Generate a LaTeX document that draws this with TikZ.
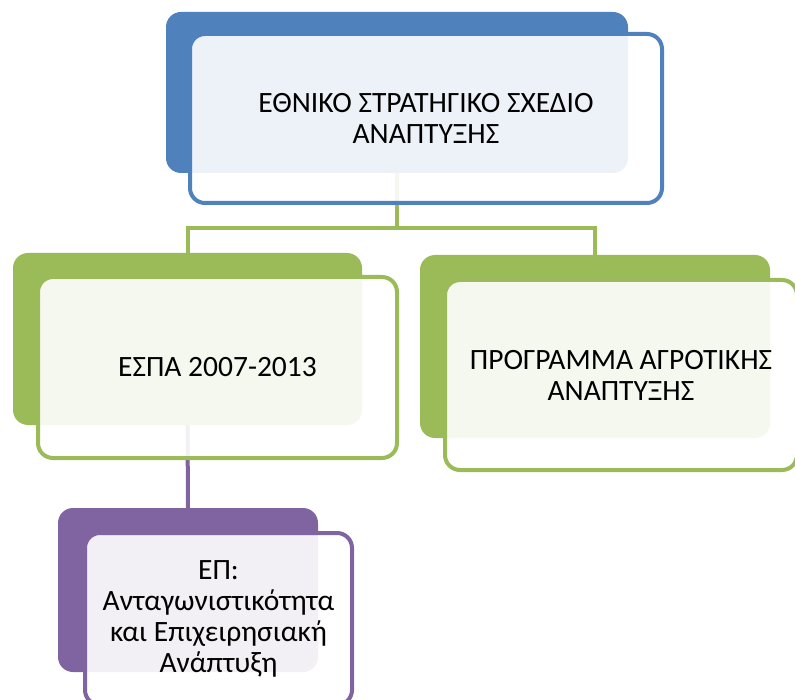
\documentclass[tikz,border=0pt]{standalone}
\usepackage{fontspec}
\setmainfont{Carlito}
\usetikzlibrary{backgrounds}
\definecolor{cblue}{HTML}{4F81BD}
\definecolor{cgreen}{HTML}{9BBB59}
\definecolor{cpurple}{HTML}{8064A2}
\begin{document}
\begin{tikzpicture}[x=1pt,y=-1pt,
  fillbox/.style={rounded corners=15pt, inner sep=0pt, draw=none},
  outbox/.style={fill=white, fill opacity=0.9, text opacity=1, line width=4pt,
    rounded corners=15pt, inner sep=0pt, align=center,
    font=\fontsize{29.5pt}{31pt}\selectfont},
  gline/.style={draw=cgreen, line width=4pt},
  pline/.style={draw=cpurple, line width=4pt}]
\useasboundingbox (0,0) rectangle (795,700);
\clip (0,0) rectangle (795,700);
% top
\node[fillbox, fill=cblue, minimum width=462pt, minimum height=161pt] (topfill) at (397,92.5) {};
\node[outbox, draw=cblue, minimum width=472pt, minimum height=169pt] (topbox) at (426,118.5) {ΕΘΝΙΚΟ ΣΤΡΑΤΗΓΙΚΟ ΣΧΕΔΙΟ\\ΑΝΑΠΤΥΞΗΣ};
% left
\node[fillbox, fill=cgreen, minimum width=349pt, minimum height=172pt] (espafill) at (187.5,339) {};
\node[outbox, draw=cgreen, minimum width=359pt, minimum height=181pt] (espabox) at (217.5,367.5) {ΕΣΠΑ 2007-2013};
% right
\node[fillbox, fill=cgreen, minimum width=350pt, minimum height=183pt] (agrofill) at (595,346.5) {};
\node[outbox, draw=cgreen, minimum width=352pt, minimum height=190pt] (agrobox) at (621,375) {ΠΡΟΓΡΑΜΜΑ ΑΓΡΟΤΙΚΗΣ\\ΑΝΑΠΤΥΞΗΣ};
% bottom
\node[fillbox, fill=cpurple, minimum width=260pt, minimum height=164pt] (epfill) at (188,590) {};
\node[outbox, draw=cpurple, minimum width=267pt, minimum height=172pt] (epbox) at (218.5,619) {ΕΠ:\\Ανταγωνιστικότητα\\και Επιχειρησιακή\\Ανάπτυξη};
\begin{pgfonlayer}{background}
\draw[gline] (topfill.south) -- ++(0,55) coordinate (split);
\draw[gline] (split) -| (espafill.north);
\draw[gline] (split) -| (agrofill.north);
\draw[pline] (espafill.south) -- (epfill.north);
\end{pgfonlayer}
\end{tikzpicture}
\end{document}
